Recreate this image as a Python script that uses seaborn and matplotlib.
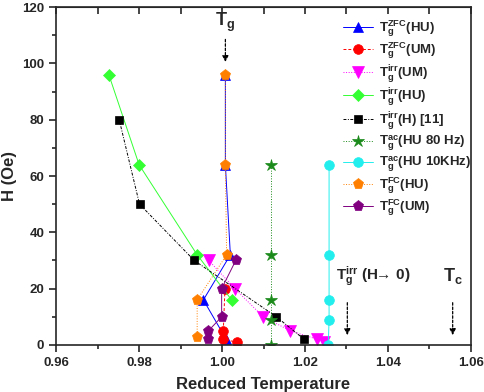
import matplotlib
matplotlib.use("Agg")
import matplotlib.pyplot as plt
import seaborn as sns
import numpy as np
from matplotlib.ticker import MultipleLocator, FormatStrFormatter

sns.set_style("ticks")
plt.rcParams['font.family'] = ['Liberation Sans', 'DejaVu Sans']
plt.rcParams['font.weight'] = 'bold'
plt.rcParams['mathtext.fontset'] = 'custom'
plt.rcParams['mathtext.bf'] = 'Liberation Sans:bold'
plt.rcParams['mathtext.rm'] = 'Liberation Sans:bold'
plt.rcParams['mathtext.it'] = 'Liberation Sans:bold'
plt.rcParams['mathtext.default'] = 'bf'

# ---- data ----
zfc_hu_x = [1.0008, 1.0008, 1.0020, 0.9955, 1.0010]
zfc_hu_y = [96, 64, 32, 16, 2]
zfc_um_x = [1.0007, 1.0003, 1.0003, 1.0036]
zfc_um_y = [20, 5, 2, 1]
irr_um_x = [0.9968, 1.0031, 1.0099, 1.0165, 1.0230, 1.0245]
irr_um_y = [30, 20, 10, 5, 2, 1]
irr_hu_x = [0.9727, 0.9800, 0.9940, 1.0023]
irr_hu_y = [96, 64, 32, 16]
irr_h11_x = [0.9752, 0.9801, 0.9933, 1.0131, 1.0198]
irr_h11_y = [80, 50, 30, 10, 2]
ac80_x = [1.0117, 1.0117, 1.0117, 1.0117, 1.0117]
ac80_y = [64, 32, 16, 9, 0]
ac10k_x = [1.0258, 1.0258, 1.0258, 1.0258, 1.0256]
ac10k_y = [64, 32, 16, 9, 0]
fc_hu_x = [1.0008, 1.0008, 1.0011, 0.9940, 0.9940]
fc_hu_y = [96, 64, 32, 16, 3]
fc_um_x = [1.0033, 0.9999, 0.9999, 0.9967, 0.9967]
fc_um_y = [30, 20, 10, 5, 2]

labels = [r'$T_g^{ZFC}$(HU)', r'$T_g^{ZFC}$(UM)', r'$T_g^{irr}$(UM)', r'$T_g^{irr}$(HU)',
          r'$T_g^{irr}$(H) [11]', r'$T_g^{ac}$(HU 80 Hz)', r'$T_g^{ac}$(HU 10KHz)',
          r'$T_g^{FC}$(HU)', r'$T_g^{FC}$(UM)']

series = [
    (zfc_hu_x, zfc_hu_y, '#0000ff', '^', '-'),
    (zfc_um_x, zfc_um_y, '#ff0000', 'o', (0, (3, 2))),
    (irr_um_x, irr_um_y, '#ff00ff', 'v', ':'),
    (irr_hu_x, irr_hu_y, '#33ff33', 'D', '-'),
    (irr_h11_x, irr_h11_y, '#000000', 's', (0, (3, 1.5, 1, 1.5))),
    (ac80_x, ac80_y, '#1a8a1a', '*', ':'),
    (ac10k_x, ac10k_y, '#22eeee', 'o', '-'),
    (fc_hu_x, fc_hu_y, '#ff8000', 'p', ':'),
    (fc_um_x, fc_um_y, '#800080', 'p', '-'),
]
msizes = [7, 7, 8, 6, 6, 9, 7, 8, 8]

fig = plt.figure(figsize=(4.84, 3.92), dpi=100)
ax = fig.add_axes([0.116, 0.12, 0.857, 0.862])

for (xs, ys, c, m, ls), lab, ms in zip(series, labels, msizes):
    sns.lineplot(x=xs, y=ys, ax=ax, sort=False, estimator=None, color=c,
                 marker=m, linestyle=ls, lw=0.7, markersize=ms,
                 markeredgecolor=c, markeredgewidth=0.5, label=lab)

ax.set_xlim(0.96, 1.06)
ax.set_ylim(0, 120)
ax.xaxis.set_major_locator(MultipleLocator(0.02))
ax.xaxis.set_minor_locator(MultipleLocator(0.01))
ax.xaxis.set_major_formatter(FormatStrFormatter('%.2f'))
ax.yaxis.set_major_locator(MultipleLocator(20))
ax.yaxis.set_minor_locator(MultipleLocator(10))
ax.tick_params(which='both', direction='out', width=1.2, labelsize=9.5)
ax.tick_params(which='major', length=5)
ax.tick_params(which='minor', length=3)
for lab in ax.get_xticklabels() + ax.get_yticklabels():
    lab.set_fontweight('bold')
for s in ax.spines.values():
    s.set_linewidth(1.2)
    s.set_visible(True)

sec = ax.secondary_xaxis('top')
sec.xaxis.set_major_locator(MultipleLocator(0.01))
sec.tick_params(direction='in', length=5, width=1.2, labeltop=False)

ax.set_xlabel('Reduced Temperature', fontsize=12, fontweight='bold', labelpad=6)
ax.set_ylabel('H (Oe)', fontsize=12, fontweight='bold', labelpad=4)

# annotations
arrow = dict(arrowstyle='-|>', linestyle=(0, (2, 1.5)), color='k', lw=0.9, mutation_scale=9)
ax.annotate('', xy=(1.0008, 99.5), xytext=(1.0008, 109.5), arrowprops=arrow)
ax.text(1.0008, 110.5, r'$T_g$', fontsize=13, ha='center', va='bottom')
ax.annotate('', xy=(1.0302, 2.5), xytext=(1.0302, 16), arrowprops=arrow)
ax.text(1.0365, 24.5, r'$T_g^{irr}$ (H$\!\!\rightarrow\!$ 0)', fontsize=11, ha='center', va='center')
ax.annotate('', xy=(1.0556, 2.5), xytext=(1.0556, 16), arrowprops=arrow)
ax.text(1.0556, 24.5, r'$T_c$', fontsize=13, ha='center', va='center')

leg = ax.legend(loc='upper right', bbox_to_anchor=(1.02, 0.99), frameon=False,
                fontsize=9.5, handlelength=2.3, labelspacing=0.12, handletextpad=0.45,
                borderaxespad=0.2)
for t in leg.get_texts():
    t.set_fontweight('bold')

fig.savefig('out.png', dpi=100)
